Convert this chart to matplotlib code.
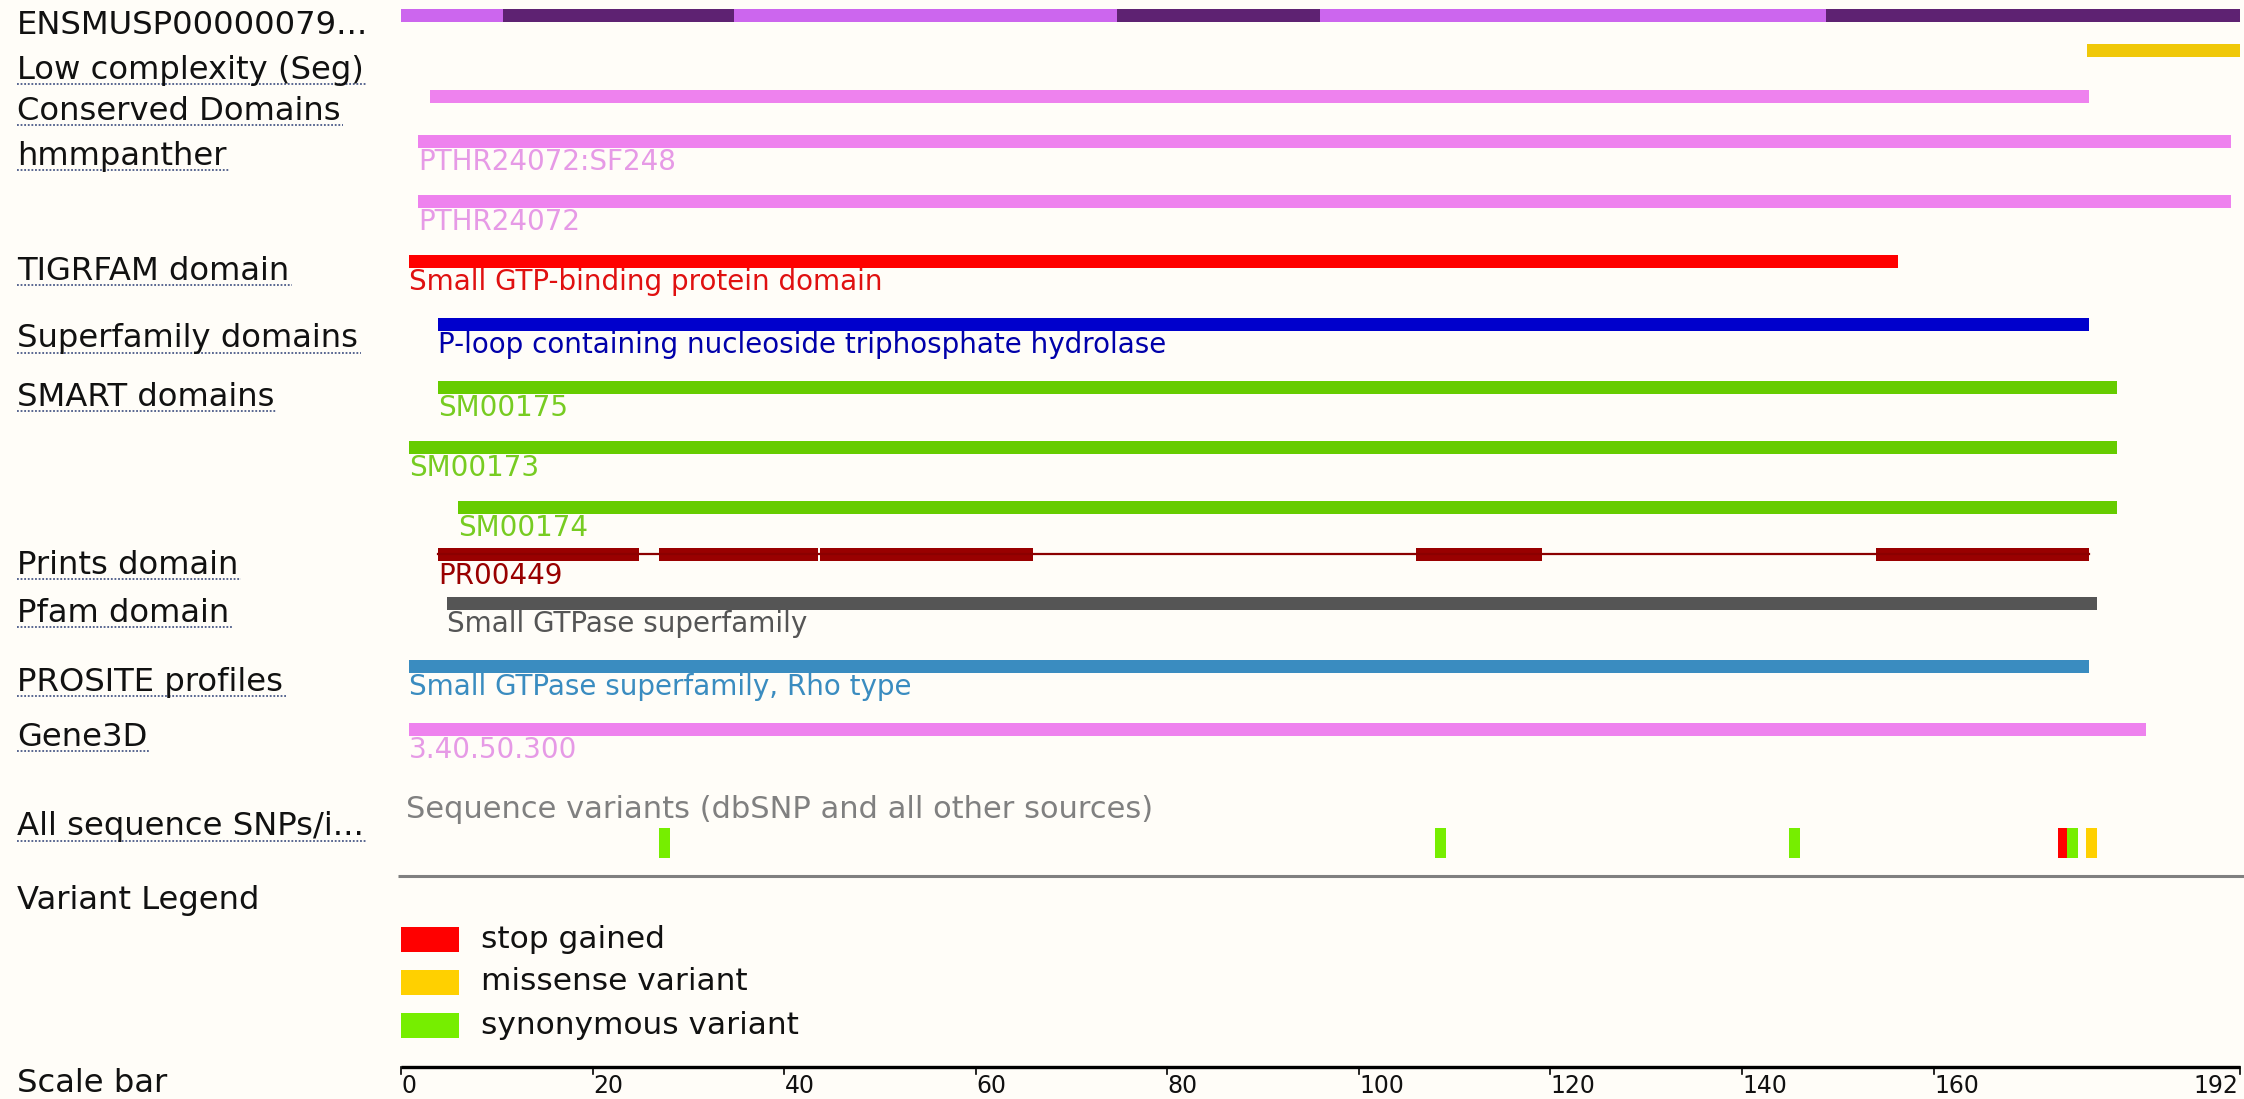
import matplotlib.pyplot as plt

# ---- data ----
protein_length = 192
exon_bounds = [0, 10.7, 34.8, 74.8, 95.9, 148.8, 192]
low_complexity = [(176.0, 192)]
conserved = [(3.0, 176.2)]
panther = [("PTHR24072:SF248", 1.8, 191.1), ("PTHR24072", 1.8, 191.1)]
tigrfam = [("Small GTP-binding protein domain", 0.8, 156.3)]
superfamily = [("P-loop containing nucleoside triphosphate hydrolase", 3.9, 176.2)]
smart = [("SM00175", 3.9, 179.2), ("SM00173", 0.8, 179.2), ("SM00174", 6.0, 179.2)]
prints_name = "PR00449"
prints_segments = [(3.9, 24.9), (26.9, 43.5), (43.7, 66.0), (106.0, 119.1), (154.0, 176.2)]
pfam = [("Small GTPase superfamily", 4.8, 177.1)]
prosite = [("Small GTPase superfamily, Rho type", 0.8, 176.2)]
gene3d = [("3.40.50.300", 0.8, 182.2)]
variant_pos = [28, 109, 146, 174, 175, 177]
variant_type = ["synonymous variant", "synonymous variant", "synonymous variant",
                "stop gained", "synonymous variant", "missense variant"]
legend_types = ["stop gained", "missense variant", "synonymous variant"]
scale_ticks = [0, 20, 40, 60, 80, 100, 120, 140, 160, 192]

track_labels = ["ENSMUSP00000079...", "Low complexity (Seg)", "Conserved Domains", "hmmpanther",
                "TIGRFAM domain", "Superfamily domains", "SMART domains", "Prints domain",
                "Pfam domain", "PROSITE profiles", "Gene3D", "All sequence SNPs/i...",
                "Variant Legend", "Scale bar"]

# ---- styles / layout (pixel rows) ----
label_y = [26, 70, 111, 156, 271, 339, 397, 565, 613, 682, 737, 827, 901, 1083]
underlined = [False, True, True, True, True, True, True, True, True, True, True, True, False, False]
variant_colors = {"stop gained": "#ff0000", "missense variant": "#ffd000",
                  "synonymous variant": "#76ee00"}
bg = "#fffdf8"
bar_h = 13
label_fs = 23.2
small_fs = 20
tick_fs = 17

W, H = 2244, 1099
px0, px192 = 401, 2240
unit = (px192 - px0) / protein_length

fig = plt.figure(figsize=(W / 100, H / 100), dpi=100)
fig.patch.set_facecolor(bg)
ax = fig.add_axes([0, 0, 1, 1])
ax.set_facecolor(bg)
ax.set_xlim(-px0 / unit, (W - px0) / unit)
ax.set_ylim(H, 0)
ax.axis("off")
lab_x = (17 - px0) / unit


def feature(rows, y, color, text_color, text_dy=21):
    for name, s, e in rows:
        ax.barh(y, e - s, left=s, height=bar_h, color=color, linewidth=0)
        ax.text(s, y + text_dy, name, fontsize=small_fs, color=text_color, va="center", ha="left")


# protein / exons
for i in range(len(exon_bounds) - 1):
    c = "#cc66ee" if i % 2 == 0 else "#5e2272"
    ax.barh(15, exon_bounds[i + 1] - exon_bounds[i], left=exon_bounds[i], height=bar_h,
            color=c, linewidth=0)

for s, e in low_complexity:
    ax.barh(50, e - s, left=s, height=bar_h, color="#f0c808", linewidth=0)
for s, e in conserved:
    ax.barh(96, e - s, left=s, height=bar_h, color="#ee82ee", linewidth=0)

feature(panther[:1], 141, "#ee82ee", "#e69ae6")
feature(panther[1:], 201, "#ee82ee", "#e69ae6")
feature(tigrfam, 261, "#ff0000", "#e01010")
feature(superfamily, 324, "#0000cc", "#0000aa")
feature(smart[:1], 387, "#66cc00", "#77cc22")
feature(smart[1:2], 447, "#66cc00", "#77cc22")
feature(smart[2:], 507, "#66cc00", "#77cc22")

# prints: segments joined by a thin line
ax.plot([prints_segments[0][0], prints_segments[-1][1]], [554, 554], color="#8b0000", lw=1.6)
for s, e in prints_segments:
    ax.barh(554, e - s, left=s, height=bar_h, color="#990000", linewidth=0)
ax.text(prints_segments[0][0], 576, prints_name, fontsize=small_fs, color="#990000", va="center")

feature(pfam, 603, "#555555", "#555555")
feature(prosite, 666, "#3a8cc0", "#3a8cc0")
feature(gene3d, 729, "#ee82ee", "#e69ae6")

# variants
ax.text(0.5, 809, "Sequence variants (dbSNP and all other sources)", fontsize=22,
        color="#808080", va="center")
for p, t in zip(variant_pos, variant_type):
    ax.bar(p - 1.05, 30, bottom=828, width=1.15, color=variant_colors[t], linewidth=0, align="edge")
ax.plot([-0.3, (W - px0) / unit], [876, 876], color="#808080", lw=2.2, solid_capstyle="butt")

# legend
for i, t in enumerate(legend_types):
    y = 939 + i * 43
    ax.barh(y, 6.05, left=0, height=25, color=variant_colors[t], linewidth=0)
    ax.text(8.4, y, t, fontsize=22.5, color="#111111", va="center")

# scale bar
ax.plot([0, protein_length], [1067, 1067], color="black", lw=2.4, solid_capstyle="butt")
for i, t in enumerate(scale_ticks):
    ax.plot([t, t], [1067, 1074], color="black", lw=1.2)
    ha = "right" if i == len(scale_ticks) - 1 else "left"
    ax.text(t + (0.05 if ha == "left" else -0.2), 1086, str(t), fontsize=tick_fs,
            color="#111111", va="center", ha=ha)

# track labels with dotted underline
texts = []
for lab, y in zip(track_labels, label_y):
    texts.append(ax.text(lab_x, y, lab, fontsize=label_fs, color="#111111", va="center", ha="left"))

fig.canvas.draw()
r = fig.canvas.get_renderer()
inv = ax.transData.inverted()
for t, u in zip(texts, underlined):
    if not u:
        continue
    bb = t.get_window_extent(r)
    x0, yb = inv.transform((bb.x0, bb.y0 + 2))
    x1 = inv.transform((bb.x1, bb.y0))[0]
    ax.plot([x0, x1 + 0.3], [yb, yb], color="#4a5a88", lw=1.3, ls=(0, (1, 1)))

fig.savefig("out.png", dpi=100, facecolor=bg)
